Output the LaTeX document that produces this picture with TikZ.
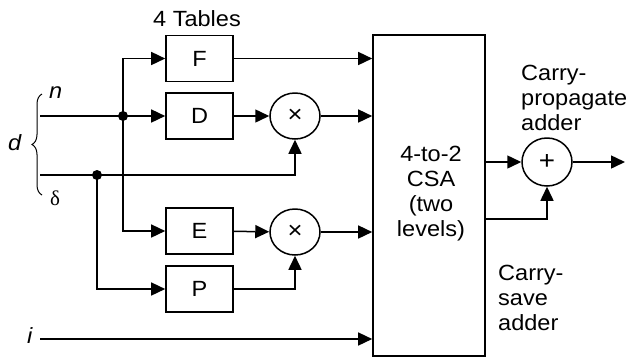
\documentclass[tikz,border=0pt]{standalone}
\usepackage{fontspec}
\setmainfont{Liberation Sans}[FakeStretch=1.07]
\newfontfamily\deltafont{Liberation Serif}
\usetikzlibrary{arrows.meta,shapes.geometric,decorations.pathreplacing}
\begin{document}
\begin{tikzpicture}[x=1pt,y=-1pt,
  txt/.style={font=\fontsize{22}{25}\selectfont},
  tbl/.style={draw, line width=1.6pt, minimum width=67pt, minimum height=46pt, inner sep=0pt, txt},
  mul/.style={draw, ellipse, line width=1.5pt, minimum width=50pt, minimum height=46pt, inner sep=0pt, font=\fontsize{24}{28}\selectfont},
  wire/.style={line width=1.5pt},
  arr/.style={wire, -{Triangle[length=14pt,width=13pt]}},
  dot/.style={circle, fill, inner sep=0pt, minimum size=10pt},
  lbl/.style={inner sep=0pt, txt, align=left}]
\useasboundingbox (0,0) rectangle (627,360);
% tables
\node[tbl] (F) at (199.5,58.5) {F};
\node[tbl] (D) at (199.5,116) {D};
\node[tbl] (E) at (199.5,231) {E};
\node[tbl] (P) at (199.5,289) {P};
\node[mul] (M1) at (295,116) {×};
\node[mul] (M2) at (295,232) {×};
\node[draw, line width=1.6pt, minimum width=112pt, minimum height=321pt, inner sep=0pt] (CSA) at (429,195.5) {};
\node[txt, align=center, inner sep=0pt] (CSAt) at (431,194) {4-to-2\\CSA\\(two\\levels)};
\node[mul, minimum height=48pt, font=\fontsize{26}{30}\selectfont] (A) at (547,162) {+};
% labels
\node[lbl, anchor=base] (tabl) at (197,26.7) {4 Tables};
\node[lbl, anchor=north west] (cpa) at (521,65) {Carry-\\propagate\\adder};
\node[lbl, anchor=north west] (csa) at (498,265) {Carry-\\save\\adder};
\node[lbl, anchor=base west] (nl) at (49,98) {\itshape n};
\node[lbl, anchor=base west] (dl) at (8,150) {\itshape d};
\node[lbl, anchor=base west, font=\deltafont\fontsize{21}{24}\selectfont] (dll) at (50,205) {δ};
\node[lbl, anchor=base west] (il) at (27,343) {\itshape i};
% brace
\coordinate (bb) at (42,195);
\coordinate (bt) at (42,94);
\draw[line width=1pt, decorate, decoration={brace, amplitude=10pt}] (bb) -- (bt);
% inputs
\coordinate (nin) at (40,116);
\coordinate (din) at (40,175);
\coordinate (iin) at (40,339);
\coordinate (out) at (625,162);
\coordinate (s2) at (485,219);
\node[dot] (dn) at (123,116) {};
\node[dot] (dd) at (97,175) {};
\draw[wire] (nin) -- (dn.center);
\draw[arr] (dn.center) -- (D.west);
\draw[arr] (dn.center) |- (F.west);
\draw[arr] (dn.center) |- (E.west);
\draw[wire] (din) -- (dd.center);
\draw[arr] (dd.center) -| (M1.south);
\draw[arr] (dd.center) |- (P.west);
\draw[arr] (D) -- (M1);
\draw[arr] (E) -- (M2);
\draw[arr] (P.east) -| (M2.south);
\draw[arr] (F.east) -- (F.east -| CSA.west);
\draw[arr] (M1.east) -- (M1.east -| CSA.west);
\draw[arr] (M2.east) -- (M2.east -| CSA.west);
\draw[arr] (iin) -- (iin -| CSA.west);
\draw[arr] (CSA.east |- A) -- (A.west);
\draw[arr] (s2) -| (A.south);
\draw[arr] (A.east) -- (out);
\end{tikzpicture}
\end{document}
